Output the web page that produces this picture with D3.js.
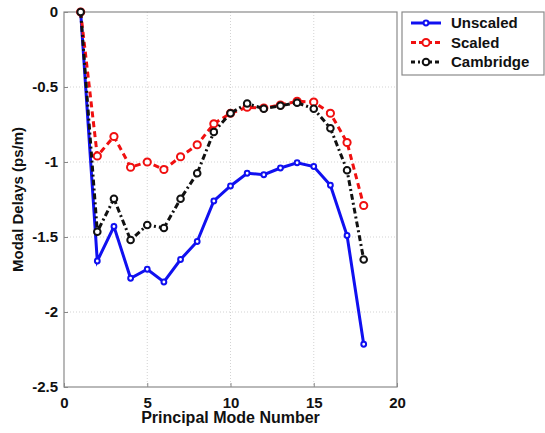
<!DOCTYPE html>
<html>
<head>
<meta charset="utf-8">
<script src="https://cdn.jsdelivr.net/npm/d3@7"></script>
<style>
  body { margin: 0; background: #fff; }
  text { font-family: "Liberation Sans", Arial, sans-serif; font-weight: bold; }
</style>
</head>
<body>
<svg id="chart"></svg>
<script>
var width = 545,
    height = 433;

// data
var modes = [1, 2, 3, 4, 5, 6, 7, 8, 9, 10, 11, 12, 13, 14, 15, 16, 17, 18];
var unscaled = [0, -1.66, -1.43, -1.775, -1.715, -1.80, -1.65, -1.53, -1.26, -1.16, -1.075, -1.085, -1.04, -1.005, -1.03, -1.155, -1.49, -2.215];
var scaled = [0, -0.96, -0.83, -1.035, -1.0, -1.05, -0.965, -0.885, -0.745, -0.675, -0.635, -0.64, -0.62, -0.595, -0.60, -0.675, -0.87, -1.29];
var cambridge = [0, -1.465, -1.245, -1.52, -1.42, -1.44, -1.245, -1.075, -0.80, -0.675, -0.61, -0.645, -0.625, -0.605, -0.645, -0.775, -1.055, -1.65];
var xTicks = [0, 5, 10, 15, 20];
var yTicks = [0, -0.5, -1, -1.5, -2, -2.5];
var seriesNames = ["Unscaled", "Scaled", "Cambridge"];

var margin = {left: 64, right: 148, top: 12, bottom: 46};

var svg = d3.select("#chart")
    .attr("width", width)
    .attr("height", height);

var x = d3.scaleLinear().domain([0, 20]).range([margin.left, width - margin.right]);
var y = d3.scaleLinear().domain([-2.5, 0]).range([height - margin.bottom, margin.top]);

// grid
svg.append("g")
  .selectAll("line")
  .data(xTicks.slice(1, -1))
  .join("line")
  .attr("x1", function(d) { return x(d); })
  .attr("x2", function(d) { return x(d); })
  .attr("y1", y(0))
  .attr("y2", y(-2.5))
  .attr("stroke", "#c8c8c8")
  .attr("stroke-width", 0.8)
  .attr("stroke-dasharray", "1,2");

svg.append("g")
  .selectAll("line")
  .data(yTicks.slice(1, -1))
  .join("line")
  .attr("x1", x(0))
  .attr("x2", x(20))
  .attr("y1", function(d) { return y(d); })
  .attr("y2", function(d) { return y(d); })
  .attr("stroke", "#c8c8c8")
  .attr("stroke-width", 0.8)
  .attr("stroke-dasharray", "1,2");

// axes
var xAxis = svg.append("g")
  .attr("transform", "translate(0," + y(-2.5) + ")")
  .call(d3.axisBottom(x).tickValues(xTicks).tickSize(-4).tickPadding(10).tickFormat(d3.format("d")));

var yAxis = svg.append("g")
  .attr("transform", "translate(" + x(0) + ",0)")
  .call(d3.axisLeft(y).tickValues(yTicks).tickSize(-4).tickPadding(6).tickFormat(function(d) { return d; }));

[xAxis, yAxis].forEach(function(a) {
  a.select(".domain").remove();
  a.selectAll(".tick line").attr("stroke", "#888");
  a.selectAll(".tick text").attr("fill", "#111").style("font-size", "15px");
});

// frame
svg.append("rect")
  .attr("x", x(0))
  .attr("y", y(0))
  .attr("width", x(20) - x(0))
  .attr("height", y(-2.5) - y(0))
  .attr("fill", "none")
  .attr("stroke", "#8a8a8a")
  .attr("stroke-width", 1.2);

// axis labels
svg.append("text")
  .attr("x", (x(0) + x(20)) / 2)
  .attr("y", height - 10)
  .attr("text-anchor", "middle")
  .style("font-size", "16px")
  .attr("fill", "#111")
  .text("Principal Mode Number");

svg.append("text")
  .attr("transform", "translate(23," + (y(-1.25)) + ") rotate(-90)")
  .attr("text-anchor", "middle")
  .style("font-size", "15px")
  .attr("fill", "#111")
  .text("Modal Delays (ps/m)");

// series
var series = [
  {name: seriesNames[0], values: unscaled, color: "#1010f0", dash: null, r: 2.4},
  {name: seriesNames[1], values: scaled, color: "#f01010", dash: "6,4", r: 3.6},
  {name: seriesNames[2], values: cambridge, color: "#111", dash: "6,3,2,3", r: 3.3}
];

var line = d3.line()
  .x(function(d) { return x(d[0]); })
  .y(function(d) { return y(d[1]); });

series.forEach(function(s) {
  var pts = modes.map(function(m, i) { return [m, s.values[i]]; });
  svg.append("path")
    .datum(pts)
    .attr("d", line)
    .attr("fill", "none")
    .attr("stroke", s.color)
    .attr("stroke-width", 3)
    .attr("stroke-dasharray", s.dash);

  svg.append("g")
    .selectAll("circle")
    .data(pts)
    .join("circle")
    .attr("cx", function(d) { return x(d[0]); })
    .attr("cy", function(d) { return y(d[1]); })
    .attr("r", s.r)
    .attr("fill", "#fff")
    .attr("stroke", s.color)
    .attr("stroke-width", 2);
});

// legend
var legend = svg.append("g").attr("transform", "translate(402,12)");
legend.append("rect")
  .attr("width", 142)
  .attr("height", 63)
  .attr("fill", "#fff")
  .attr("stroke", "#8a8a8a")
  .attr("stroke-width", 1.2);

series.forEach(function(s, i) {
  var ly = 11 + i * 19.5;
  legend.append("line")
    .attr("x1", 9)
    .attr("x2", 39)
    .attr("y1", ly)
    .attr("y2", ly)
    .attr("stroke", s.color)
    .attr("stroke-width", 3)
    .attr("stroke-dasharray", s.dash ? (i == 1 ? "5,3" : "4,3,2,3") : null);
  legend.append("circle")
    .attr("cx", 24)
    .attr("cy", ly)
    .attr("r", s.r)
    .attr("fill", "#fff")
    .attr("stroke", s.color)
    .attr("stroke-width", 2);
  legend.append("text")
    .attr("x", 49)
    .attr("y", ly + 5)
    .style("font-size", "15px")
    .attr("fill", "#111")
    .text(s.name);
});
</script>
</body>
</html>
